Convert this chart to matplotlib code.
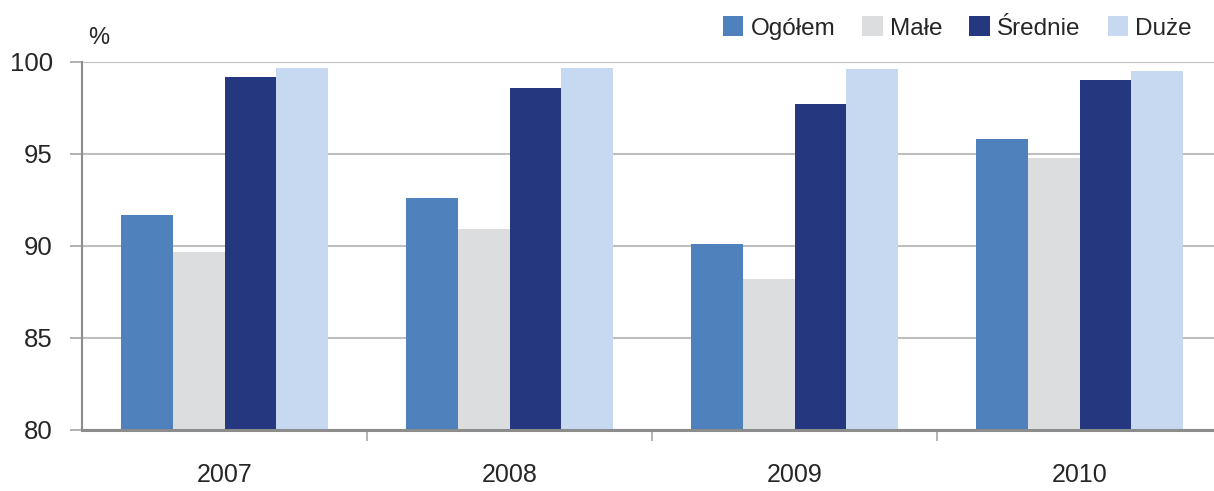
import matplotlib
matplotlib.use("Agg")
import matplotlib.pyplot as plt
import numpy as np
from matplotlib.patches import Patch

years = ["2007", "2008", "2009", "2010"]
series_names = ["Ogółem", "Małe", "Średnie", "Duże"]
ogolem = [91.7, 92.6, 90.1, 95.8]
male = [89.7, 90.9, 88.2, 94.8]
srednie = [99.2, 98.6, 97.7, 99.0]
duze = [99.7, 99.7, 99.6, 99.5]
colors = ["#4F81BD", "#DCDDDF", "#25377F", "#C6D9F0"]

plt.rcParams['font.family'] = ['Liberation Sans', 'DejaVu Sans']

fig = plt.figure(figsize=(12.14, 4.91), dpi=100)
ax = fig.add_axes([82/1214, 1-430/491, 1140/1214, 368/491])

x = np.arange(len(years))
w = 0.182
for k, (vals, c) in enumerate(zip([ogolem, male, srednie, duze], colors)):
    ax.bar(x + (k - 1.5) * w, np.array(vals) - 80, bottom=80, width=w, color=c, zorder=3)

ax.set_xlim(-0.5, 3.5)
ax.set_ylim(80, 100)
ax.set_yticks([80, 85, 90, 95, 100])
ax.yaxis.grid(True, color="#BFBFBF", linewidth=1.5, zorder=0)
ax.set_axisbelow(True)

ax.set_xticks(x)
ax.set_xticklabels(years)
ax.set_xticks([0.5, 1.5, 2.5], minor=True)
ax.tick_params(axis='x', which='major', length=0, pad=24, labelsize=18, labelcolor="#262626")
ax.tick_params(axis='x', which='minor', length=8, width=1.2, color="#A6A6A6", direction='out')
ax.tick_params(axis='y', length=9, width=1.2, color="#A6A6A6", labelsize=18.5, labelcolor="#262626", pad=12)

for s in ['top', 'right']:
    ax.spines[s].set_visible(False)
ax.spines['left'].set_color("#8C8C8C")
ax.spines['left'].set_linewidth(1.5)
ax.spines['bottom'].set_color("#8C8C8C")
ax.spines['bottom'].set_linewidth(2.2)
ax.spines['bottom'].set_zorder(4)

fig.text(88/1214, 1-38/491, "%", fontsize=17, color="#262626", ha='left', va='center')

handles = [Patch(facecolor=c, edgecolor='none') for c in colors]
fig.legend(handles, series_names, loc='center right', bbox_to_anchor=(1.0, 1-28/491),
           ncol=4, frameon=False, fontsize=17.5, handlelength=0.85, handleheight=0.85,
           handletextpad=0.3, columnspacing=1.1, labelcolor="#262626")

fig.savefig("out.png", dpi=100)
